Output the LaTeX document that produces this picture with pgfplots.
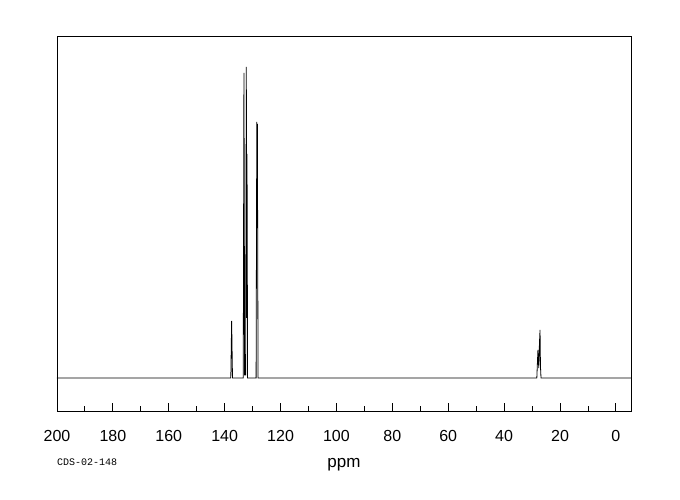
\documentclass[border=0pt]{standalone}
\usepackage{pgfplots}
\pgfplotsset{compat=1.18}
\usepackage{fontspec}
\setmainfont{Liberation Sans}
\newfontfamily\monofont{Liberation Mono}
\begin{document}
\begin{tikzpicture}[x=1pt,y=1pt]
\path (0,0) rectangle (680,500);
\begin{axis}[
  at={(57pt,89pt)}, anchor=south west,
  scale only axis, width=574pt, height=375pt,
  x dir=reverse, xmin=-5.4, xmax=200, ymin=-33, ymax=342,
  xtick={0,20,...,200}, minor xtick={10,30,...,190},
  xtick pos=bottom, tick align=inside,
  major tick length=8pt, minor tick length=5pt,
  ytick=\empty,
  axis line style={line width=0.9pt, black},
  every tick/.style={black, line width=0.9pt},
  /pgf/number format/assume math mode=true,
  xticklabel style={font=\fontsize{16}{16}\selectfont, yshift=-16pt},
  xlabel={ppm}, xlabel style={font=\fontsize{17}{17}\selectfont, yshift=-10pt},
]
\addplot[black, line width=0.8pt, line join=miter] coordinates {
(200,0)
(137.8,0) (137.5,57) (137.2,0)
(133.35,0) (133.1,305) (132.85,3) (132.5,3) (132.25,311) (132.15,60) (132.0,224) (131.8,0)
(128.75,0) (128.5,256) (128.4,170) (128.3,254) (128.05,0)
(28.3,0) (27.9,28) (27.6,10) (27.35,35) (27.15,48) (27.0,12) (26.8,0)
(-5.4,0)
};
\end{axis}
\node[anchor=west, font=\monofont\fontsize{10}{10}\selectfont, inner sep=0pt] at (57,38) {CDS-02-148};
\end{tikzpicture}
\end{document}
